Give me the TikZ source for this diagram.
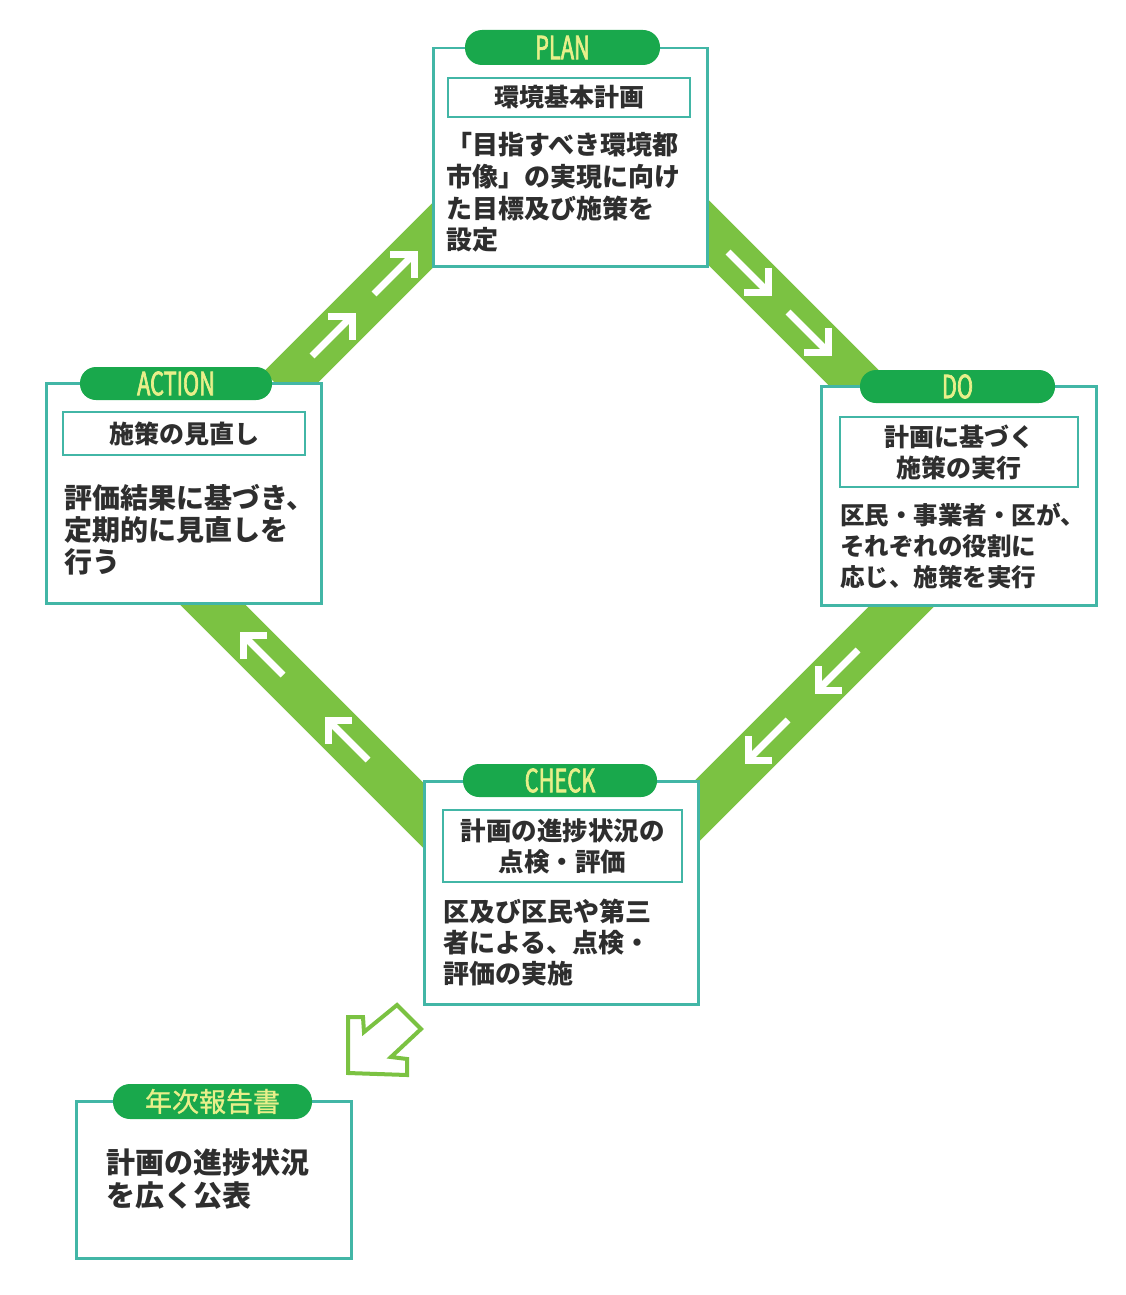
\documentclass[tikz,border=0pt]{standalone}
\usepackage{fontspec}
\newfontfamily\jp{Noto Sans CJK JP}
\newfontfamily\pillf{Noto Sans CJK JP}[FakeStretch=0.68,FakeBold=2]
\newfontfamily\jpfb{Noto Sans CJK JP}[FakeBold=1]
\usetikzlibrary{calc}
\definecolor{boxline}{HTML}{42B6A6}
\definecolor{pillgreen}{HTML}{19A84C}
\definecolor{bandgreen}{HTML}{7BC242}
\definecolor{pilltext}{HTML}{E8EF8A}
\definecolor{ink}{HTML}{2E2E2E}
\tikzset{
  outerbox/.style={draw=boxline, line width=2.5pt, fill=white, anchor=north west, inner sep=0pt},
  innerbox/.style={draw=boxline, line width=2.5pt, fill=white, inner sep=0pt, align=center, text=ink},
  pillbox/.style={fill=pillgreen, inner sep=0pt, text=pilltext},
  bodytext/.style={anchor=west, inner sep=0pt, align=left, text=ink},
  band/.style={draw=bandgreen, line width=46pt, line cap=butt},
  whitearrow/.style={draw=white, line width=7pt, line join=miter, line cap=butt},
  hollowarrow/.style={draw=bandgreen, line width=4pt, fill=white, line join=miter}
}
\newcommand{\wArrow}[4]{% tip x, tip y, dx, dy
  \draw[whitearrow] (#1,#2) -- ++({-40*(#3)},{-40*(#4)});
  \draw[whitearrow] ({#1-24*(#3)},#2) -- (#1,#2) -- (#1,{#2-24*(#4)});
}
\begin{document}
\begin{tikzpicture}[x=1pt,y=-1pt]
\useasboundingbox (0,0) rectangle (1125,1295);
\fill[white] (0,0) rectangle (1125,1295);

% positions of outer boxes
\coordinate (planNW) at (432,47);
\coordinate (actNW) at (45,382);
\coordinate (doNW) at (820,385);
\coordinate (chkNW) at (423,780);
\coordinate (repNW) at (75,1100);

% bands (connectors between boxes)
\draw[band] ($(actNW)+(235,6)$) -- ($(planNW)+(18,171)$);
\draw[band] ($(planNW)+(248,157)$) -- ($(doNW)+(50,9)$);
\draw[band] ($(doNW)+(110,193)$) -- ($(chkNW)+(247,58)$);
\draw[band] ($(chkNW)+(37,72)$) -- ($(actNW)+(135,190)$);

% white arrows on bands
\wArrow{352}{316}{1}{-1}
\wArrow{414}{254}{1}{-1}
\wArrow{768}{292}{1}{1}
\wArrow{828}{352}{1}{1}
\wArrow{818}{690}{-1}{1}
\wArrow{748}{760}{-1}{1}
\wArrow{243}{635}{-1}{-1}
\wArrow{328}{720}{-1}{-1}

% outer boxes
\node[outerbox, minimum width=274pt, minimum height=218pt] (plan) at (planNW) {};
\node[outerbox, minimum width=275pt, minimum height=220pt] (action) at (actNW) {};
\node[outerbox, minimum width=275pt, minimum height=219pt] (do) at (doNW) {};
\node[outerbox, minimum width=274pt, minimum height=223pt] (check) at (chkNW) {};
\node[outerbox, minimum width=275pt, minimum height=157pt] (report) at (repNW) {};

% pills
\node[pillbox, rounded corners=17pt, minimum width=195pt, minimum height=35pt, font=\pillf\fontsize{32}{32}\selectfont] (planpill) at (562.5,47.5) {PLAN};
\node[pillbox, rounded corners=16pt, minimum width=192pt, minimum height=33pt, font=\pillf\fontsize{32}{32}\selectfont] (actpill) at (176,383.5) {ACTION};
\node[pillbox, rounded corners=16pt, minimum width=195pt, minimum height=33pt, font=\pillf\fontsize{32}{32}\selectfont] (dopill) at (957.5,386.5) {DO};
\node[pillbox, rounded corners=16pt, minimum width=194pt, minimum height=33pt, font=\pillf\fontsize{32}{32}\selectfont] (chkpill) at (560,780.5) {CHECK};
\node[pillbox, rounded corners=17pt, minimum width=199pt, minimum height=35pt, font=\jpfb\fontsize{27}{27}\selectfont] (reppill) at (212.5,1101.5) {年次報告書};

% inner boxes
\node[innerbox, minimum width=242pt, minimum height=39pt, font=\jp\bfseries\fontsize{25}{31}\selectfont] (planin) at (569,97.5) {環境基本計画};
\node[innerbox, minimum width=242pt, minimum height=43pt, font=\jp\bfseries\fontsize{25}{31}\selectfont] (actin) at (184,433.5) {施策の見直し};
\node[innerbox, minimum width=238pt, minimum height=70pt, font=\jp\bfseries\fontsize{25}{31}\selectfont] (doin) at (959,452) {計画に基づく\\施策の実行};
\node[innerbox, minimum width=239pt, minimum height=72pt, font=\jp\bfseries\fontsize{25.5}{31}\selectfont] (chkin) at (562.5,846) {計画の進捗状況の\\点検・評価};

% body texts
\node[bodytext, font=\jp\bfseries\fontsize{26}{31.7}\selectfont] (plantext) at (446,192.5) {「目指すべき環境都\\市像」の実現に向け\\た目標及び施策を\\設定};
\node[bodytext, font=\jp\bfseries\fontsize{28}{32}\selectfont] (acttext) at (64,530) {評価結果に基づき、\\定期的に見直しを\\行う};
\node[bodytext, font=\jp\bfseries\fontsize{24.5}{31}\selectfont] (dotext) at (840,546) {区民・事業者・区が、\\それぞれの役割に\\応じ、施策を実行};
\node[bodytext, font=\jp\bfseries\fontsize{26}{31}\selectfont] (chktext) at (443,943) {区及び区民や第三\\者による、点検・\\評価の実施};
\node[bodytext, font=\jp\bfseries\fontsize{29}{33}\selectfont] (reptext) at (106,1179.5) {計画の進捗状況\\を広く公表};

% hollow arrow from CHECK toward report
\draw[hollowarrow] (348,1073) -- (348,1017) -- (363,1017) -- (364,1032) -- (397,1005) -- (421,1029) -- (391,1057) -- (407,1059) -- (407,1075) -- cycle;
\end{tikzpicture}
\end{document}
